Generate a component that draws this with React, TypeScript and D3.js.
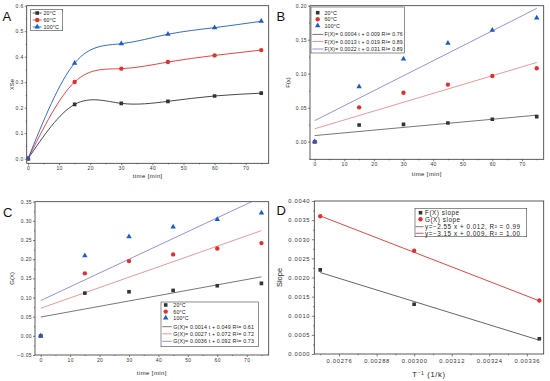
import React, { useEffect, useRef } from 'react';
import * as d3 from 'd3';

// values
const times = [0, 15, 30, 45, 60, 75];
const temps = ['20°C', '60°C', '100°C'];

const xse20 = [0, 0.213, 0.217, 0.225, 0.246, 0.257];
const xse60 = [0, 0.301, 0.353, 0.379, 0.405, 0.426];
const xse100 = [0, 0.375, 0.451, 0.488, 0.514, 0.539];

const fx20 = [0, 0.0245, 0.0255, 0.0275, 0.033, 0.0368];
const fx60 = [0, 0.0505, 0.072, 0.084, 0.0966, 0.108];
const fx100 = [0, 0.081, 0.1216, 0.145, 0.164, 0.182];
const fxSlope = [0.0004, 0.0013, 0.0022];
const fxIntercept = [0.009, 0.019, 0.031];
const fxFitText = [
  'F(X)= 0.0004 t + 0.009 R²= 0.76',
  'F(X)= 0.0013 t + 0.019 R²= 0.89',
  'F(X)= 0.0022 t + 0.031 R²= 0.89',
];

const gx20 = [0, 0.1115, 0.115, 0.1185, 0.1307, 0.1368];
const gx60 = [0, 0.163, 0.195, 0.2125, 0.228, 0.242];
const gx100 = [0, 0.209, 0.2587, 0.284, 0.304, 0.3206];
const gxSlope = [0.0014, 0.0027, 0.0036];
const gxIntercept = [0.049, 0.072, 0.092];
const gxFitText = [
  'G(X)= 0.0014 t + 0.049 R²= 0.61',
  'G(X)= 0.0027 t + 0.072 R²= 0.72',
  'G(X)= 0.0036 t + 0.092 R²= 0.73',
];

const invT = [0.0027, 0.003, 0.0034];
const fSlopes = [0.0022, 0.0013, 0.0004];
const gSlopes = [0.0036, 0.0027, 0.0014];
const fFitEnds = [0.00213, 0.00036];
const gFitEnds = [0.00361, 0.00139];
const dLegend = ['F(X) slope', 'G(X) slope', 'y=−2.55 x + 0.012,  R² = 0.99', 'y=−3.15 x + 0.009,  R² = 1.00'];

// tick labels
const timeTicks = [0, 10, 20, 30, 40, 50, 60, 70];
const timeMinor = [5, 15, 25, 35, 45, 55, 65, 75];
const xseTicks = [0, 0.1, 0.2, 0.3, 0.4, 0.5, 0.6];
const xseMinor = [0.05, 0.15, 0.25, 0.35, 0.45, 0.55];
const fxTicks = [0, 0.05, 0.1, 0.15, 0.2];
const fxMinor = [-0.025, 0.025, 0.075, 0.125, 0.175];
const gxTicks = [-0.05, 0, 0.05, 0.1, 0.15, 0.2, 0.25, 0.3, 0.35];
const gxMinor = [-0.025, 0.025, 0.075, 0.125, 0.175, 0.225, 0.275, 0.325];
const invTTicks = [0.00276, 0.00288, 0.003, 0.00312, 0.00324, 0.00336];
const invTMinor = [0.0027, 0.00282, 0.00294, 0.00306, 0.00318, 0.0033];
const slopeTicks = [0, 0.0005, 0.001, 0.0015, 0.002, 0.0025, 0.003, 0.0035, 0.004];
const slopeMinor = [0.00025, 0.00075, 0.00125, 0.00175, 0.00225, 0.00275, 0.00325, 0.00375];

const colors = ['#333333', '#e3302f', '#1c5cc7'];
const fitColors = ['#555555', '#e67d7d', '#7676d6'];
const shapes = [d3.symbolSquare, d3.symbolCircle, d3.symbolTriangle];
const shapeSize = [13, 15, 13];
const FONT = '"Liberation Sans", Arial, sans-serif';

type Box = { l: number; r: number; t: number; b: number };
type Sel = d3.Selection<SVGGElement, unknown, null, undefined>;

function panel(svg: Sel, id: string, box: Box, xDom: number[], yDom: number[], o: any) {
  const x = d3.scaleLinear().domain(xDom).range([box.l, box.r]);
  const y = d3.scaleLinear().domain(yDom).range([box.b, box.t]);
  const g = svg.append('g');

  g.append('clipPath').attr('id', id)
    .append('rect').attr('x', box.l).attr('y', box.t).attr('width', box.r - box.l).attr('height', box.b - box.t);

  const style = (sel: any) => {
    sel.select('.domain').remove();
    sel.selectAll('line').attr('stroke', '#333').attr('stroke-width', 0.6);
    sel.selectAll('text').attr('font-family', FONT).attr('font-size', o.fs).attr('fill', '#333')
      .style('letter-spacing', `${o.ls}px`);
  };

  g.append('g').attr('transform', `translate(0,${box.b})`)
    .call(d3.axisBottom(x).tickValues(o.xTicks).tickSize(o.tick).tickPadding(o.padX).tickFormat(o.xFmt)).call(style);
  g.append('g').attr('transform', `translate(0,${box.b})`)
    .call(d3.axisBottom(x).tickValues(o.xMinor).tickSize(o.tick / 2).tickFormat(() => '')).call(style);
  g.append('g').attr('transform', `translate(${box.l},0)`)
    .call(d3.axisLeft(y).tickValues(o.yTicks).tickSize(o.tick).tickPadding(o.padY).tickFormat(o.yFmt)).call(style);
  g.append('g').attr('transform', `translate(${box.l},0)`)
    .call(d3.axisLeft(y).tickValues(o.yMinor).tickSize(o.tick / 2).tickFormat(() => '')).call(style);

  g.append('rect').attr('x', box.l).attr('y', box.t).attr('width', box.r - box.l).attr('height', box.b - box.t)
    .attr('fill', 'none').attr('stroke', '#333').attr('stroke-width', 0.8);

  g.append('text').attr('x', (box.l + box.r) / 2).attr('y', o.xLabelY).attr('text-anchor', 'middle')
    .attr('font-family', FONT).attr('font-size', o.lfs).attr('fill', '#222').style('letter-spacing', `${o.ls}px`)
    .text(o.xLabel);
  g.append('text').attr('transform', `translate(${o.yLabelX},${(box.t + box.b) / 2}) rotate(-90)`)
    .attr('text-anchor', 'middle').attr('dominant-baseline', 'central')
    .attr('font-family', FONT).attr('font-size', o.lfs).attr('fill', '#222').text(o.yLabel);
  g.append('text').attr('x', o.letter[1]).attr('y', o.letter[2]).attr('font-family', FONT)
    .attr('font-size', 13).attr('fill', '#111').text(o.letter[0]);

  const plot = g.append('g').attr('clip-path', `url(#${id})`);
  return { x, y, g, plot };
}

function marker(g: any, i: number, cx: number, cy: number) {
  g.append('path').attr('d', d3.symbol(shapes[i], shapeSize[i])())
    .attr('transform', `translate(${cx},${cy})`).attr('fill', colors[i]);
}

function legendBox(g: any, box: Box) {
  g.append('rect').attr('x', box.l).attr('y', box.t).attr('width', box.r - box.l).attr('height', box.b - box.t)
    .attr('fill', 'white').attr('stroke', '#444').attr('stroke-width', 0.6);
}

function legendText(g: any, x: number, y: number, t: string, fs: number, ls = 0.15) {
  g.append('text').attr('x', x).attr('y', y).attr('dominant-baseline', 'central')
    .attr('font-family', FONT).attr('font-size', fs).attr('fill', '#222')
    .style('letter-spacing', `${ls}px`).text(t);
}

export default function App() {
  const svgRef = useRef<SVGSVGElement>(null);

  useEffect(() => {
    if (!svgRef.current) return;
    const root = d3.select(svgRef.current);
    root.selectAll('*').remove();
    const svg = root.append('g') as unknown as Sel;
    const f1 = d3.format('.1f');
    const f2 = d3.format('.2f');
    const rowOff = [0, 6.6, 13, 21.7, 28.8, 36.3];

    // ---- A ----
    const A = panel(svg, 'clipA', { l: 26.7, r: 268.7, t: 5.7, b: 163.3 }, [-0.42, 77.4], [-0.018, 0.6], {
      xTicks: timeTicks, xMinor: timeMinor, yTicks: xseTicks, yMinor: xseMinor,
      xFmt: d3.format('d'), yFmt: f1, tick: 2, padX: 1, padY: 1, fs: 5, ls: 0.4, lfs: 6,
      xLabel: 'time [min]', xLabelY: 177.5, yLabel: 'XSe', yLabelX: 11.7, letter: ['A', 2.5, 20.7],
    });
    [xse20, xse60, xse100].forEach((vals, i) => {
      const line = d3.line<number>().x((_, k) => A.x(times[k])).y(v => A.y(v)).curve(d3.curveNatural);
      A.plot.append('path').attr('d', line(vals)).attr('fill', 'none').attr('stroke', colors[i]).attr('stroke-width', 0.9);
      vals.forEach((v, k) => marker(A.plot, i, A.x(times[k]), A.y(v)));
    });
    legendBox(A.g, { l: 30.7, r: 62.7, t: 9.3, b: 30.7 });
    temps.forEach((t, i) => {
      const yy = 13 + i * 7;
      A.g.append('line').attr('x1', 32.7).attr('x2', 41.7).attr('y1', yy).attr('y2', yy)
        .attr('stroke', colors[i]).attr('stroke-width', 0.8);
      marker(A.g, i, 37.2, yy);
      legendText(A.g, 43.5, yy, t, 5.3);
    });

    // ---- B ----
    const B = panel(svg, 'clipB', { l: 310, r: 543.7, t: 5.7, b: 159.3 }, [-1.59, 77.36], [-0.0259, 0.2], {
      xTicks: timeTicks, xMinor: timeMinor, yTicks: fxTicks, yMinor: fxMinor,
      xFmt: d3.format('d'), yFmt: f2, tick: 2, padX: 1, padY: 1, fs: 5, ls: 0.4, lfs: 6,
      xLabel: 'time [min]', xLabelY: 176, yLabel: 'F(x)', yLabelX: 288.3, letter: ['B', 276.5, 20.7],
    });
    fxSlope.forEach((s, i) => {
      B.plot.append('line').attr('x1', B.x(0)).attr('x2', B.x(75))
        .attr('y1', B.y(fxIntercept[i])).attr('y2', B.y(fxIntercept[i] + s * 75))
        .attr('stroke', fitColors[i]).attr('stroke-width', 0.8);
    });
    [fx20, fx60, fx100].forEach((vals, i) => vals.forEach((v, k) => marker(B.plot, i, B.x(times[k]), B.y(v))));
    legendBox(B.g, { l: 311, r: 404.3, t: 7, b: 53 });
    temps.forEach((t, i) => {
      const yy = 12.7 + rowOff[i];
      marker(B.g, i, 317.7, yy);
      legendText(B.g, 324.5, yy, t, 5.3);
    });
    fxFitText.forEach((t, i) => {
      const yy = 12.7 + rowOff[i + 3];
      B.g.append('line').attr('x1', 312.3).attr('x2', 323.3).attr('y1', yy).attr('y2', yy)
        .attr('stroke', fitColors[i]).attr('stroke-width', 0.8);
      legendText(B.g, 324.5, yy, t, 5.2);
    });

    // ---- C ----
    const C = panel(svg, 'clipC', { l: 35, r: 268.7, t: 201.7, b: 355 }, [-1.94, 77.47], [-0.05, 0.35], {
      xTicks: timeTicks, xMinor: timeMinor, yTicks: gxTicks, yMinor: gxMinor,
      xFmt: d3.format('d'), yFmt: f2, tick: 2, padX: 1, padY: 1, fs: 5, ls: 0.4, lfs: 6,
      xLabel: 'time [min]', xLabelY: 375, yLabel: 'G(X)', yLabelX: 11.7, letter: ['C', 3, 216.7],
    });
    gxSlope.forEach((s, i) => {
      C.plot.append('line').attr('x1', C.x(0)).attr('x2', C.x(75))
        .attr('y1', C.y(gxIntercept[i])).attr('y2', C.y(gxIntercept[i] + s * 75))
        .attr('stroke', fitColors[i]).attr('stroke-width', 0.8);
    });
    [gx20, gx60, gx100].forEach((vals, i) => vals.forEach((v, k) => marker(C.plot, i, C.x(times[k]), C.y(v))));
    legendBox(C.g, { l: 161, r: 258.3, t: 302, b: 346.7 });
    temps.forEach((t, i) => {
      const yy = 305 + rowOff[i];
      marker(C.g, i, 165.7, yy);
      legendText(C.g, 173.3, yy, t, 5.3);
    });
    gxFitText.forEach((t, i) => {
      const yy = 305 + rowOff[i + 3];
      C.g.append('line').attr('x1', 162.3).attr('x2', 171.7).attr('y1', yy).attr('y2', yy)
        .attr('stroke', fitColors[i]).attr('stroke-width', 0.8);
      legendText(C.g, 173.3, yy, t, 5.3);
    });

    // ---- D ----
    const D = panel(svg, 'clipD', { l: 314.3, r: 543.7, t: 201, b: 354 }, [0.002681, 0.003414], [0, 0.004], {
      xTicks: invTTicks, xMinor: invTMinor, yTicks: slopeTicks, yMinor: slopeMinor,
      xFmt: d3.format('.5f'), yFmt: d3.format('.4f'), tick: 2.5, padX: 2.5, padY: 1.5, fs: 5.8, ls: 0.7, lfs: 7.5,
      xLabel: 'T⁻¹ (1/k)', xLabelY: 377, yLabel: 'Slope', yLabelX: 279, letter: ['D', 276.5, 215],
    });
    D.plot.append('line').attr('x1', D.x(invT[0])).attr('x2', D.x(invT[2]))
      .attr('y1', D.y(fFitEnds[0])).attr('y2', D.y(fFitEnds[1])).attr('stroke', '#555').attr('stroke-width', 0.9);
    D.plot.append('line').attr('x1', D.x(invT[0])).attr('x2', D.x(invT[2]))
      .attr('y1', D.y(gFitEnds[0])).attr('y2', D.y(gFitEnds[1])).attr('stroke', '#e3302f').attr('stroke-width', 0.9);
    fSlopes.forEach((v, k) => marker(D.plot, 0, D.x(invT[k]), D.y(v)));
    gSlopes.forEach((v, k) => marker(D.plot, 1, D.x(invT[k]), D.y(v)));
    legendBox(D.g, { l: 415, r: 526.7, t: 208.3, b: 236.7 });
    const dRows = [212.7, 219.3, 226.7, 233.3];
    marker(D.g, 0, 420.5, dRows[0]);
    marker(D.g, 1, 420.5, dRows[1]);
    [['#555', 2], ['#e3302f', 3]].forEach(([c, r]: any) => {
      D.g.append('line').attr('x1', 415.5).attr('x2', 423.5).attr('y1', dRows[r]).attr('y2', dRows[r])
        .attr('stroke', c).attr('stroke-width', 0.8);
    });
    dLegend.forEach((t, i) => legendText(D.g, 425, dRows[i], t, 6.3, 0.55));
  }, []);

  return (
    <div style={{ position: 'absolute', left: 0, top: 0, background: 'white' }}>
      <svg ref={svgRef} width={550} height={381} style={{ display: 'block' }} />
    </div>
  );
}
